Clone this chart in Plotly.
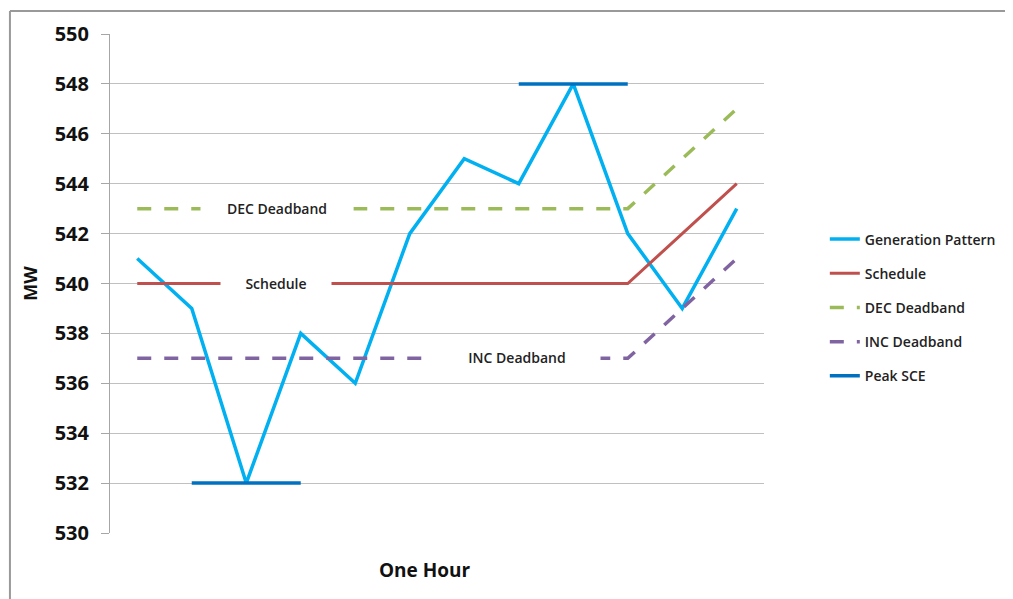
import plotly.graph_objects as go

# ---- data ----
steps = [1, 2, 3, 4, 5, 6, 7, 8, 9, 10, 11, 12]
generation = [541, 539, 532, 538, 536, 542, 545, 544, 548, 542, 539, 543]
schedule = [540, 540, 540, 540, 540, 540, 540, 540, 540, 540, 542, 544]
dec_deadband = [543, 543, 543, 543, 543, 543, 543, 543, 543, 543, 545, 547]
inc_deadband = [537, 537, 537, 537, 537, 537, 537, 537, 537, 537, 539, 541]
peak_x = [2, 3, 4, None, 8, 9, 10]
peak_y = [532, 532, 532, None, 548, 548, 548]
y_ticks = [530, 532, 534, 536, 538, 540, 542, 544, 546, 548, 550]

FONT = "Open Sans"

fig = go.Figure()
fig.add_trace(go.Scatter(x=steps, y=generation, mode="lines", name="Generation Pattern",
                         line=dict(color="#00b0f0", width=3.5), legendgroup="g1"))
fig.add_trace(go.Scatter(x=steps, y=schedule, mode="lines", name="Schedule",
                         line=dict(color="#c0504d", width=3), legendgroup="g2"))
fig.add_trace(go.Scatter(x=steps, y=dec_deadband, mode="lines", name="DEC Deadband",
                         line=dict(color="#9bbb59", width=3.5, dash="14px,13px"), legendgroup="g3"))
fig.add_trace(go.Scatter(x=steps, y=inc_deadband, mode="lines", name="INC Deadband",
                         line=dict(color="#8064a2", width=3.5, dash="14px,13px"), legendgroup="g4"))
fig.add_trace(go.Scatter(x=peak_x, y=peak_y, mode="lines", name="Peak SCE",
                         line=dict(color="#0070c0", width=3.5), connectgaps=False, legendgroup="g5"))

lbl_font = dict(family=FONT, size=14, color="#222222", weight=600)
fig.add_annotation(x=3.56, y=543, text="DEC Deadband", showarrow=False, bgcolor="white",
                   width=150, height=13, font=lbl_font)
fig.add_annotation(x=3.55, y=540, text="Schedule", showarrow=False, bgcolor="white",
                   width=108, height=13, font=lbl_font)
fig.add_annotation(x=7.97, y=537, text="INC Deadband", showarrow=False, bgcolor="white",
                   width=164, height=13, font=lbl_font, yshift=1)

fig.add_annotation(xref="paper", yref="paper", x=0.4817, y=-0.0737, text="One Hour",
                   showarrow=False, yanchor="middle",
                   font=dict(family=FONT, size=19, color="#111111", weight="bold"))

# outer frame (top and left edges)
fig.add_shape(type="line", xref="paper", yref="paper", x0=-0.153, x1=1.40, y0=1.046, y1=1.046,
              line=dict(color="#999999", width=2))
fig.add_shape(type="line", xref="paper", yref="paper", x0=-0.153, x1=-0.153, y0=1.046, y1=-0.2,
              line=dict(color="#999999", width=2))

fig.update_layout(
    width=1005, height=591,
    margin=dict(l=102, r=249, t=21, b=66),
    paper_bgcolor="white", plot_bgcolor="white",
    font=dict(family=FONT, color="#111111"),
    showlegend=True,
    legend=dict(x=1.093, xanchor="left", y=0.452, yanchor="middle",
                font=dict(family=FONT, size=14, color="#222222", weight=600),
                tracegroupgap=13, bgcolor="rgba(0,0,0,0)"),
    xaxis=dict(range=[0.5, 12.5], showgrid=False, zeroline=False, showticklabels=False,
               ticks="", showline=False, fixedrange=True),
    yaxis=dict(range=[530, 550], tickvals=y_ticks, showgrid=True, gridcolor="#c0c0c0",
               gridwidth=1, zeroline=False, showline=True, linecolor="#a6a6a6", linewidth=1,
               ticks="outside", ticklen=8, tickcolor="#a6a6a6", ticklabelstandoff=8,
               tickfont=dict(family=FONT, size=20, color="#111111", weight="bold"),
               title=dict(text="MW", standoff=12,
                          font=dict(family=FONT, size=18, color="#111111", weight="bold"))),
)

fig.write_html("out.html")
